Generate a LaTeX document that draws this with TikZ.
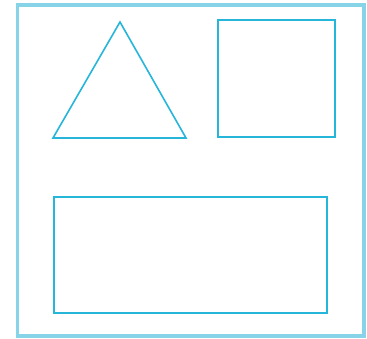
\documentclass[tikz,border=0pt]{standalone}
\usepackage{xcolor}
\usepackage{tikz}
\definecolor{cadrecl}{RGB}{135,212,232}
\definecolor{formebl}{RGB}{38,182,218}

\begin{document}
\begin{tikzpicture}[
      x=1pt, y=-1pt,
      cadre/.style={draw=cadrecl, line width=3.6pt},
      forme/.style={draw=formebl, line width=1.6pt, line join=miter}]
    \useasboundingbox (0,0) rectangle (367,339);
    \draw[cadre] (17.5,5) rectangle (364,336);
    \draw[forme] (53,138) -- (186,138) -- (120,22) -- cycle;
    \draw[forme] (218,20) rectangle (335,137);
    \draw[forme] (54,197) rectangle (327,313);
  \end{tikzpicture}
\end{document}
